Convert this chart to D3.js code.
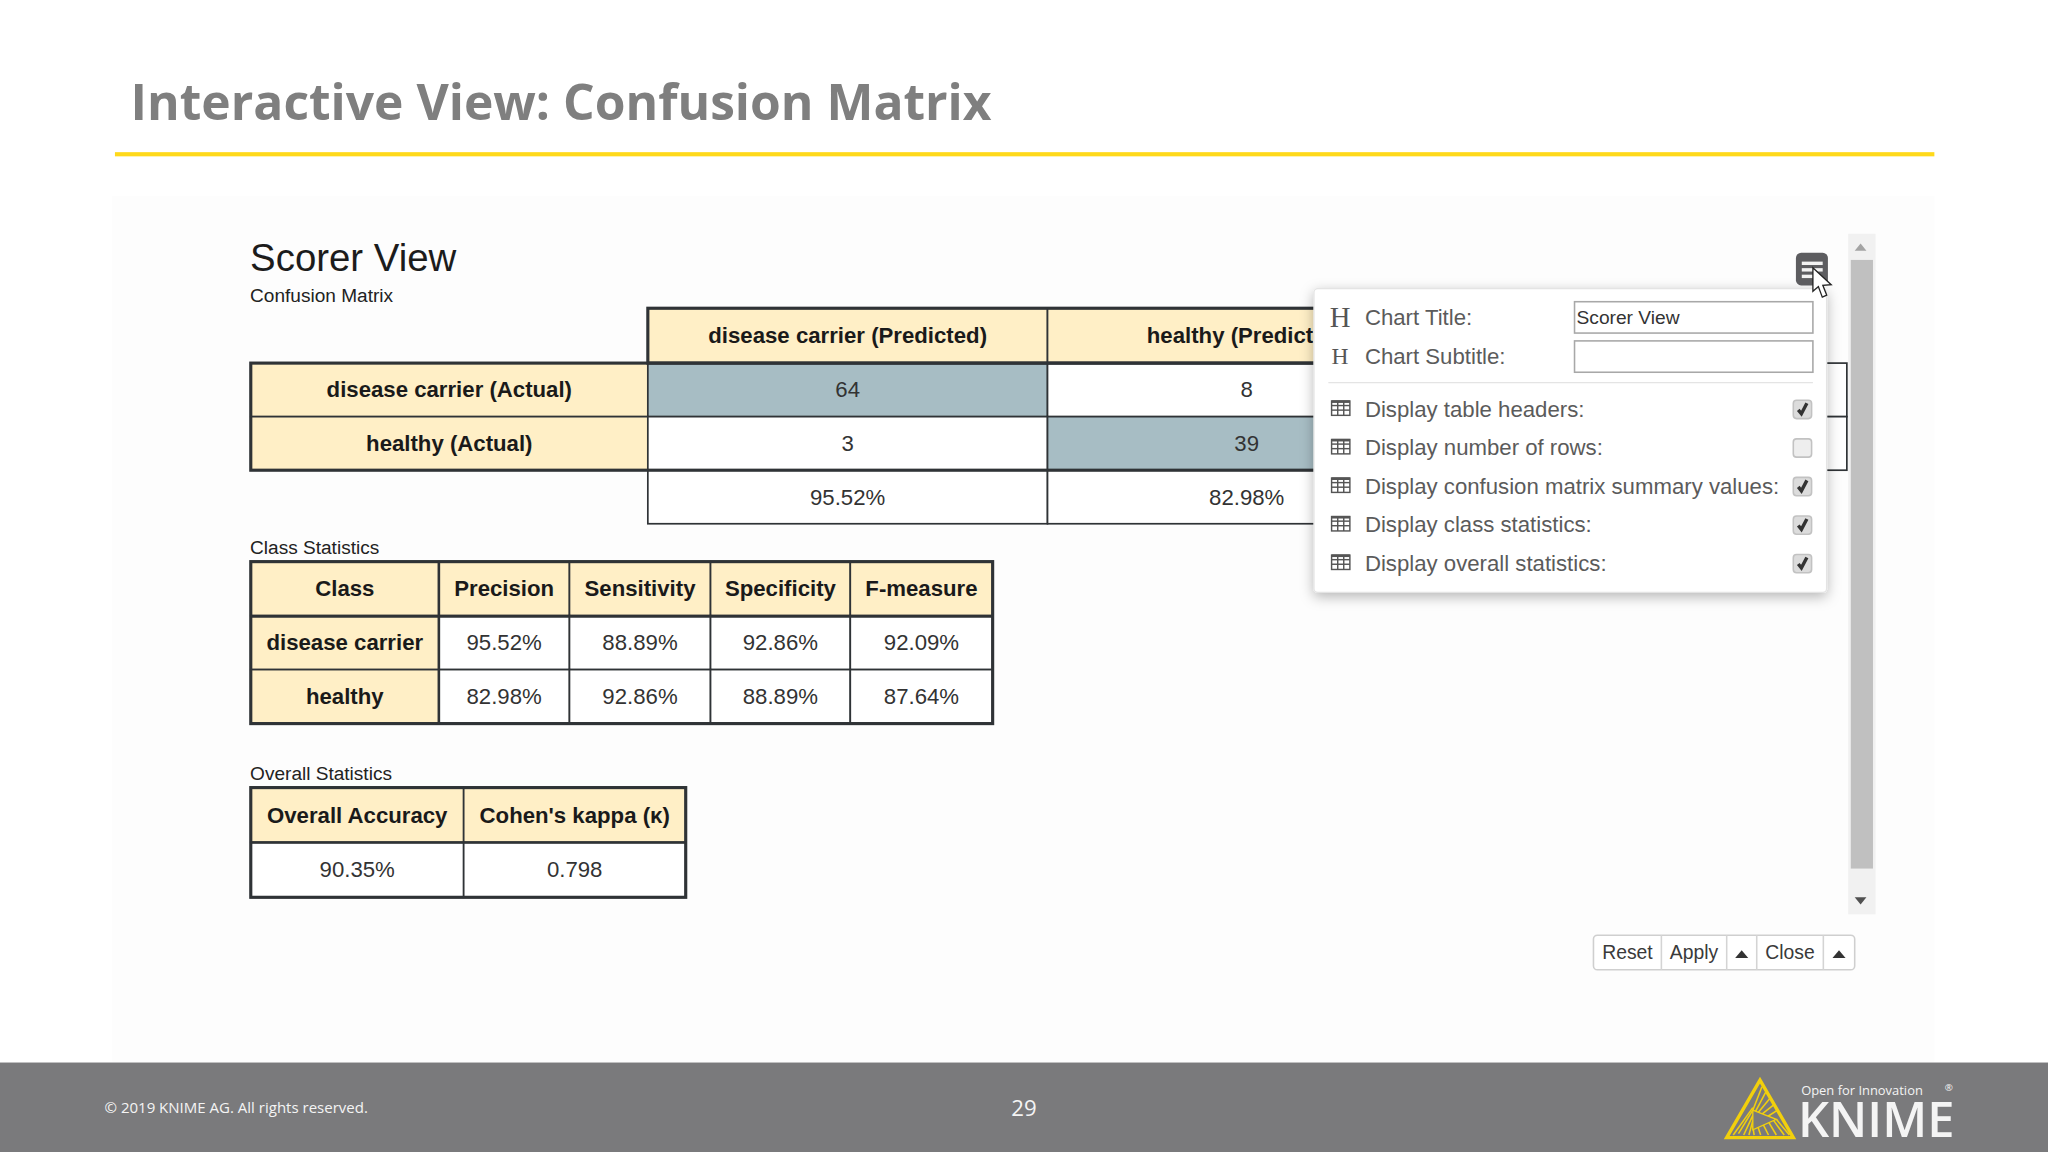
<!DOCTYPE html>
<html><head><meta charset="utf-8">
<script src="https://cdn.jsdelivr.net/npm/d3@7"></script>
<style>html,body{margin:0;padding:0;background:#fff;overflow:hidden}svg{display:block}
text{font-family:"Liberation Sans",Arial,sans-serif}</style></head>
<body><div id="c"></div>
<script>
// ---- data ----
const slideTitle = "Interactive View: Confusion Matrix";
const chartTitle = "Scorer View";
const cmColumns = ["disease carrier (Predicted)", "healthy (Predicted)", "recall"];
const cmRows = ["disease carrier (Actual)", "healthy (Actual)"];
const cmValues = [[64, 8], [3, 39]];
const cmPrecision = ["95.52%", "82.98%"];
const classHeaders = ["Class", "Precision", "Sensitivity", "Specificity", "F-measure"];
const classNames = ["disease carrier", "healthy"];
const classValues = [["95.52%","88.89%","92.86%","92.09%"],["82.98%","92.86%","88.89%","87.64%"]];
const overallHeaders = ["Overall Accuracy", "Cohen's kappa (κ)"];
const overallValues = ["90.35%", "0.798"];
const optionLabels = ["Display table headers:","Display number of rows:","Display confusion matrix summary values:","Display class statistics:","Display overall statistics:"];
const optionChecked = [true,false,true,true,true];
const buttonLabels = ["Reset","Apply","","Close",""];

// ---- scales (layout) ----
const W=1568,H=882;
const svg=d3.select("#c").append("svg").attr("width",2048).attr("height",1152).attr("viewBox",`0 0 ${W} ${H}`);
const defs=svg.append("defs");
const f=defs.append("filter").attr("id","sh").attr("x","-10%").attr("y","-10%").attr("width","120%").attr("height","125%");
f.append("feDropShadow").attr("dx",0).attr("dy",3).attr("stdDeviation",5).attr("flood-color","#000").attr("flood-opacity",.28);

const HEAD="#ffefc6",DIAG="#a7bdc4",LINE="#2f3336",TXT="#333",BOLD="#1a1a1a";
svg.append("rect").attr("width",W).attr("height",H).attr("fill","#fff");
svg.append("rect").attr("x",86).attr("y",150).attr("width",1395).attr("height",663).attr("fill","#fdfdfd");

// slide heading
svg.append("text").attr("x",100).attr("y",92).text(slideTitle)
  .style("font-family","'Open Sans'").style("font-weight",700).style("font-size","38.1px").attr("fill","#7f7f7f");
svg.append("rect").attr("x",88).attr("y",116.5).attr("width",1393).attr("height",3.2).attr("fill","#ffd91a");

// chart headings
const label=(x,y,t,s,c)=>svg.append("text").attr("x",x).attr("y",y).text(t).style("font-size",s+"px").attr("fill",c||"#222");
label(191.5,207.5,chartTitle,29.4,"#1c1c1c");
label(191.5,231,"Confusion Matrix",14.6);
label(191.5,424.5,"Class Statistics",14.6);
label(191.5,597.5,"Overall Statistics",14.6);

function cell(g,x0,x1,y0,y1,t,o={}){
  g.append("rect").attr("x",x0).attr("y",y0).attr("width",x1-x0).attr("height",y1-y0)
    .attr("fill",o.fill||"#fff").attr("stroke",LINE).attr("stroke-width",o.sw||1.3);
  if(t!==undefined&&t!=="") g.append("text").attr("x",(x0+x1)/2).attr("y",(y0+y1)/2+5.8).attr("text-anchor","middle")
    .text(t).style("font-size","17px").style("font-weight",o.bold?700:400).attr("fill",o.bold?BOLD:TXT);
}
function outline(g,x0,x1,y0,y1,sw){g.append("rect").attr("x",x0).attr("y",y0).attr("width",x1-x0).attr("height",y1-y0).attr("fill","none").attr("stroke",LINE).attr("stroke-width",sw||2.4);}

// confusion matrix
const g1=svg.append("g");
const cmX=d3.scaleOrdinal().domain(["row",...cmColumns,"end"]).range([192,496,802,1107,1414]);
const cmY=d3.scaleOrdinal().domain(["head",...cmRows,"summary","end"]).range([236,278,319,360,401]);
const colEnd=i=>cmX(["row",...cmColumns,"end"][i+1]);
cmColumns.slice(0,2).forEach((c,i)=>cell(g1,cmX(c),colEnd(i+1),cmY("head"),cmY(cmRows[0]),c,{fill:HEAD,bold:true}));
cmRows.forEach((r,i)=>{
  const y0=cmY(r),y1=cmY(i?"summary":cmRows[1]);
  cell(g1,cmX("row"),cmX(cmColumns[0]),y0,y1,r,{fill:HEAD,bold:true});
  cmValues[i].forEach((v,j)=>cell(g1,cmX(cmColumns[j]),colEnd(j+1),y0,y1,v,{fill:i===j?DIAG:"#fff"}));
  cell(g1,cmX(cmColumns[2]),cmX("end"),y0,y1,"");
});
cmPrecision.forEach((v,j)=>cell(g1,cmX(cmColumns[j]),colEnd(j+1),cmY("summary"),cmY("end"),v));
outline(g1,cmX(cmColumns[0]),cmX(cmColumns[2]),cmY("head"),cmY(cmRows[0]));
outline(g1,cmX("row"),cmX(cmColumns[2]),cmY(cmRows[0]),cmY("summary"));

// class statistics
const g2=svg.append("g");
const csX=d3.scaleOrdinal().domain([...classHeaders,"end"]).range([192,336,436,544,651,760]);
const csY=d3.scaleBand().domain(["head",...classNames]).range([430,554]);
const ce=i=>csX([...classHeaders,"end"][i+1]);
classHeaders.forEach((h,i)=>cell(g2,csX(h),ce(i),csY("head"),csY("head")+csY.bandwidth(),h,{fill:HEAD,bold:true}));
classNames.forEach((n,r)=>{
  const y=csY(n),b=csY.bandwidth();
  cell(g2,csX("Class"),ce(0),y,y+b,n,{fill:HEAD,bold:true});
  classValues[r].forEach((v,j)=>cell(g2,csX(classHeaders[j+1]),ce(j+1),y,y+b,v));
});
outline(g2,192,760,430,554);
g2.append("line").attr("x1",192).attr("x2",760).attr("y1",472).attr("y2",472).attr("stroke",LINE).attr("stroke-width",2);
g2.append("line").attr("x1",336).attr("x2",336).attr("y1",430).attr("y2",554).attr("stroke",LINE).attr("stroke-width",2);

// overall statistics
const g3=svg.append("g");
const osX=d3.scaleOrdinal().domain([...overallHeaders,"end"]).range([192,355,525]);
const osY=d3.scaleBand().domain(["head","value"]).range([603,687]);
overallHeaders.forEach((h,i)=>{
  const x1=osX([...overallHeaders,"end"][i+1]);
  cell(g3,osX(h),x1,osY("head"),osY("value"),h,{fill:HEAD,bold:true});
  cell(g3,osX(h),x1,osY("value"),687,overallValues[i]);
});
outline(g3,192,525,603,687);
g3.append("line").attr("x1",192).attr("x2",525).attr("y1",645).attr("y2",645).attr("stroke",LINE).attr("stroke-width",2);

// scrollbar
svg.append("rect").attr("x",1415).attr("y",179).attr("width",21).attr("height",521).attr("fill","#f1f1f1");
svg.append("rect").attr("x",1417).attr("y",199).attr("width",17).attr("height",466).attr("fill","#c0c0c0");
svg.append("path").attr("d","M1420 192L1424.5 186.5L1429 192Z").attr("fill","#a3a3a3");
svg.append("path").attr("d","M1420 687L1424.5 692.5L1429 687Z").attr("fill","#505050");

// popup
const pop=svg.append("g");
pop.append("rect").attr("x",1006).attr("y",221).attr("width",392.5).attr("height",232.5).attr("rx",3)
  .attr("fill","#fff").attr("stroke","#e4e4e4").attr("filter","url(#sh)");
[[243,22],[273,18]].forEach(([y,s])=>pop.append("text").attr("x",1026).attr("y",y+s*0.33).attr("text-anchor","middle")
  .text("H").style("font-family","'Liberation Serif'").style("font-size",s+"px").attr("fill","#555"));
const pt=(x,y,t,c)=>pop.append("text").attr("x",x).attr("y",y).text(t).style("font-size","17px").attr("fill",c||"#5b5b5b");
pt(1045,249,"Chart Title:");pt(1045,278.5,"Chart Subtitle:");
[231,261].forEach(y=>pop.append("rect").attr("x",1205.5).attr("y",y).attr("width",182.5).attr("height",24).attr("fill","#fff").attr("stroke","#a8a8a8").attr("stroke-width",1.2));
pt(1207,248,chartTitle,"#333").style("font-size","14.7px");
pop.append("line").attr("x1",1017).attr("x2",1388).attr("y1",293).attr("y2",293).attr("stroke","#e4e4e4");
const optY=d3.scalePoint().domain(optionLabels).range([313,431]);
optionLabels.forEach((o,i)=>{
  const y=optY(o);
  pt(1045,y+6,o);
  const ic=pop.append("g").attr("fill","none").attr("stroke","#555").attr("stroke-width",1.1);
  ic.append("rect").attr("x",1019.5).attr("y",y-6).attr("width",14).attr("height",11);
  [y-2.5,y+1].forEach(l=>ic.append("line").attr("x1",1019.5).attr("x2",1033.5).attr("y1",l).attr("y2",l));
  [1024.2,1028.8].forEach(l=>ic.append("line").attr("x1",l).attr("x2",l).attr("y1",y-6).attr("y2",y+5));
  ic.append("line").attr("x1",1019.5).attr("x2",1033.5).attr("y1",y-5.5).attr("y2",y-5.5).attr("stroke-width",2);
  pop.append("rect").attr("x",1373).attr("y",y-6.5).attr("width",14).attr("height",14).attr("rx",2.5)
    .attr("fill",optionChecked[i]?"#dcdcdc":"#eeeeee").attr("stroke","#c2c2c2").attr("stroke-width",1.2);
  if(optionChecked[i]) pop.append("path").attr("d",`M1376.8 ${y+.8}L1379.2 ${y+3.8}L1383.4 ${y-4.2}`).attr("fill","none").attr("stroke","#333").attr("stroke-width",2.6);
});

// menu button and cursor
svg.append("rect").attr("x",1375).attr("y",193.5).attr("width",24.5).attr("height",25).attr("rx",4).attr("fill","#5d5d60");
[201.5,206.5,211.5].forEach((y,i)=>svg.append("rect").attr("x",1379.5).attr("y",y-1.2).attr("width",i==2?11:16).attr("height",2.6).attr("fill","#f2f2f2"));
svg.append("path").attr("d","M1388 205L1388 223L1392.2 219.4L1395.2 227.5L1398.6 226L1395.6 218.4L1402 218Z").attr("fill","#fff").attr("stroke","#222").attr("stroke-width",1);

// buttons
const btnX=d3.scaleOrdinal().domain(d3.range(6)).range([1220,1272,1322,1345,1396,1420]);
svg.append("rect").attr("x",1220).attr("y",716).attr("width",200).attr("height",26.5).attr("rx",3).attr("fill","#fff").attr("stroke","#cfcfcf").attr("stroke-width",1.2);
buttonLabels.forEach((b,i)=>{
  const x0=btnX(i),x1=btnX(i+1),cx=(x0+x1)/2;
  if(i) svg.append("line").attr("x1",x0).attr("x2",x0).attr("y1",716).attr("y2",742.5).attr("stroke","#d4d4d4").attr("stroke-width",1.2);
  if(b) svg.append("text").attr("x",cx).attr("y",734).attr("text-anchor","middle").text(b).style("font-size","14.8px").attr("fill","#3a3a3a");
  else svg.append("path").attr("d",`M${cx-5} 733.5L${cx} 727.5L${cx+5} 733.5Z`).attr("fill","#333");
});

// footer
svg.append("rect").attr("y",813.5).attr("width",W).attr("height",H-813.5).attr("fill","#7a7a7c");
const ft=(x,y,t,s,w,a)=>svg.append("text").attr("x",x).attr("y",y).text(t).attr("text-anchor",a||"start").attr("fill","#f4f4f4")
  .style("font-family","'Open Sans'").style("font-size",s+"px").style("font-weight",w||400);
ft(80,852,"© 2019 KNIME AG. All rights reserved.",11.5);
ft(784,854.5,"29",17,400,"middle");
ft(1379,838.5,"Open for Innovation",9.9);
ft(1376.5,870.5,"KNIME",37.4,600);
ft(1489,835,"®",7.5);
const Y="#f2d00c";
const logo=svg.append("g");
logo.append("path").attr("d","M1347.5 827L1373 871L1322 871Z").attr("fill","none").attr("stroke",Y).attr("stroke-width",2.6).attr("stroke-linejoin","miter");
[[1349,832,1342,850],[1352,836,1344,851],[1355,841,1346,852],[1358,846,1349,853],[1361,850,1353,855],
 [1331,868,1342,850],[1335,869,1342,854],[1339,869,1342,858],[1343,869,1342,862],[1327,869,1342,848],
 [1348,869,1346,863],[1354,869,1350,861],[1360,869,1354,859],[1366,869,1358,858],[1370,869,1360,857]]
  .forEach(l=>logo.append("line").attr("x1",l[0]).attr("y1",l[1]).attr("x2",l[2]).attr("y2",l[3]).attr("stroke",Y).attr("stroke-width",1.2));
logo.append("path").attr("d","M1342 850L1360 857L1342 865Z").attr("fill","#7a7a7c").attr("stroke",Y).attr("stroke-width",1);
</script></body></html>
